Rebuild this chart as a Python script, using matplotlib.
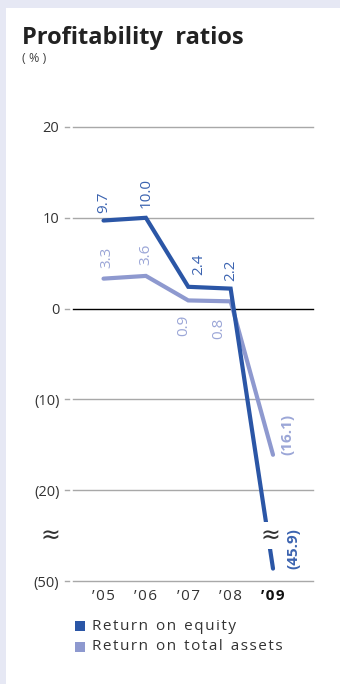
import numpy as np
import matplotlib.pyplot as plt

plt.rcParams['font.family'] = ['Open Sans', 'DejaVu Sans']

years = ['\u201905', '\u201906', '\u201907', '\u201908', '\u201909']
roe = [9.7, 10.0, 2.4, 2.2, -45.9]
roa = [3.3, 3.6, 0.9, 0.8, -16.1]
ytick_vals = [20, 10, 0, -10, -20, -50]
ytick_labels = ['20', '10', '0', '(10)', '(20)', '(50)']

ROE_COL = '#2b56a6'
ROA_COL = '#8e99cf'
ROE_TXT = '#3b63b0'
ROA_TXT = '#9ba6d7'

def squash(v):
    # values below -20 are compressed past the axis break
    v = np.asarray(v, dtype=float)
    return np.where(v >= -20, v, -20 + (v + 20) / 3.0)

def fmt(v):
    return '(%.1f)' % abs(v) if v < 0 else '%.1f' % v

def spaced(s):
    # loose tracking via hair spaces between letters
    return '\u200a'.join(s)

W, H = 340, 684
fig = plt.figure(figsize=(W / 100, H / 100), dpi=100)
fig.patch.set_facecolor('#e6e8f4')
fig.add_artist(plt.Rectangle((6 / W, 0), 1, 1 - 8 / H, transform=fig.transFigure,
                             facecolor='white', edgecolor='none', zorder=0))

ax = fig.add_axes([65 / W, 1 - 581 / H, 248 / W, 454 / H])
ax.set_facecolor('none')
for s in ax.spines.values():
    s.set_visible(False)

x = np.arange(len(years))
ax.set_xlim(-0.909, 4.944)
ax.set_ylim(-30, 20)

# gridlines with a short dash in front of each
f0 = 8 / 248
for v in ytick_vals:
    yv = float(squash(v))
    col = 'black' if v == 0 else '#a8a8a8'
    ax.axhline(yv, xmin=f0, xmax=1, color=col, lw=1.0, clip_on=False, zorder=1)
    ax.axhline(yv, xmin=0, xmax=4 / 248, color='#a8a8a8', lw=1.0, clip_on=False, zorder=1)

ax.set_yticks(squash(ytick_vals))
ax.set_yticklabels(ytick_labels)
ax.set_xticks(x)
ax.set_xticklabels([spaced(y) for y in years])
ax.tick_params(axis='y', length=0, pad=4, labelsize=10.5, labelcolor='#333333')
ax.tick_params(axis='x', length=0, pad=6, labelsize=11, labelcolor='#333333')
lab = ax.get_xticklabels()[-1]
lab.set_fontweight('bold')
lab.set_color('#111111')

ax.plot(x, squash(roa), color=ROA_COL, lw=3.0, solid_capstyle='round',
        solid_joinstyle='miter', zorder=3, clip_on=False)
ax.plot(x, squash(roe), color=ROE_COL, lw=3.0, solid_capstyle='round',
        solid_joinstyle='miter', zorder=4, clip_on=False)

# value labels
lbl = dict(rotation=90, fontsize=11, ha='center', annotation_clip=False)
roe_off = [(0, 8), (0, 10), (10, 12), (0, 8)]
for i in range(4):
    ax.annotate(fmt(roe[i]), (x[i], roe[i]), xytext=roe_off[i], textcoords='offset pixels',
                va='bottom', color=ROE_TXT, **lbl)
roa_off = [(3, 11), (0, 11)]
for i in range(2):
    ax.annotate(fmt(roa[i]), (x[i], roa[i]), xytext=roa_off[i], textcoords='offset pixels',
                va='bottom', color=ROA_TXT, **lbl)
ax.annotate(fmt(roa[2]), (x[2], 0), xytext=(-5, -6), textcoords='offset pixels',
            va='top', color=ROA_TXT, **lbl)
ax.annotate(fmt(roa[3]), (x[3], 0), xytext=(-12, -9), textcoords='offset pixels',
            va='top', color=ROA_TXT, **lbl)
ax.annotate(fmt(roa[4]), (x[4], float(squash(roa[4]))), xytext=(14, 20), textcoords='offset pixels',
            va='center', color=ROA_TXT, fontweight='bold', **lbl)
ax.annotate(fmt(roe[4]), (x[4], float(squash(roe[4]))), xytext=(20, 20), textcoords='offset pixels',
            va='center', color=ROE_TXT, fontweight='bold', **lbl)

# axis break marks
ax.text(-1.26, -25, '\u2248', fontsize=17, ha='center', va='center',
        color='#333333', clip_on=False, family='DejaVu Sans')
ax.text(x[4] - 0.07, -25, '\u2248', fontsize=17, ha='center', va='center', color='#333333',
        zorder=6, family='DejaVu Sans',
        bbox=dict(facecolor='white', edgecolor='none', boxstyle='square,pad=0.05'))

# title block
fig.text(22 / W, 1 - 44 / H, 'Profitability  ratios',
         fontsize=17, fontweight='bold', color='#222222', va='baseline')
fig.text(22 / W, 1 - 58 / H, '( % )', fontsize=9, color='#444444', va='center')

# legend
for k, (name, col) in enumerate([('Return on equity', ROE_COL),
                                  ('Return on total assets', ROA_COL)]):
    yc = 626 + 21 * k
    fig.add_artist(plt.Rectangle((75 / W, 1 - (yc + 5) / H), 10 / W, 10 / H,
                                 transform=fig.transFigure, facecolor=col, edgecolor='none'))
    txt = '  '.join(spaced(w) for w in name.split())
    fig.text(92 / W, 1 - yc / H, txt, fontsize=11, color='#333333', va='center')

fig.savefig('out.png', dpi=100)
